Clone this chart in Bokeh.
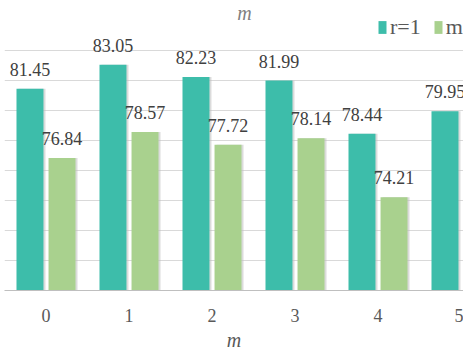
from bokeh.plotting import figure
from bokeh.models import (ColumnDataSource, Range1d, FixedTicker, LabelSet,
                          Legend, LegendItem, Label)
from bokeh.transform import dodge
from bokeh.core.properties import value
from bokeh.embed import file_html
from bokeh.resources import INLINE

# ---- data ----
groups = [0, 1, 2, 3, 4, 5]
r1_vals = [81.45, 83.05, 82.23, 81.99, 78.44, 79.95]
m_groups = [0, 1, 2, 3, 4]
m_vals = [76.84, 78.57, 77.72, 78.14, 74.21]
tick_labels = ["0", "1", "2", "3", "4", "5"]
grid_ticks = [70, 72, 74, 76, 78, 80, 82, 84]
series_names = ["r=1", "m"]

TEAL = "#3dbdaa"
GREEN = "#a9d18e"
FONT = "'Liberation Serif', 'Times New Roman', serif"

src_r = ColumnDataSource(dict(x=groups, v=r1_vals, lbl=[f"{v:.2f}" for v in r1_vals]))
src_m = ColumnDataSource(dict(x=m_groups, v=m_vals, lbl=[f"{v:.2f}" for v in m_vals]))

p = figure(width=463, height=359, x_range=Range1d(-0.5, 5.03),
           y_range=Range1d(68, 87.33), output_backend="svg",
           toolbar_location=None, min_border_left=4, min_border_right=0,
           min_border_top=0, min_border_bottom=69)
p.outline_line_color = None
p.background_fill_color = "white"
p.border_fill_color = "white"

p.yaxis.visible = False
p.xgrid.visible = False
p.ygrid.ticker = FixedTicker(ticks=grid_ticks)
p.ygrid.grid_line_color = "#d9d9d9"
p.ygrid.grid_line_width = 1

OFF = 0.193
W = 0.325
SH = 0.024  # subtle drop-shadow offset

# soft shadows behind bars
for src, off in ((src_r, -OFF), (src_m, OFF)):
    p.vbar(x=dodge("x", off + SH), top="v", bottom=68, width=W, source=src,
           fill_color="#bdbdbd", fill_alpha=0.55, line_color=None)

rb = p.vbar(x=dodge("x", -OFF), top="v", bottom=68, width=W, source=src_r,
            fill_color=TEAL, line_color=None)
mb = p.vbar(x=dodge("x", OFF), top="v", bottom=68, width=W, source=src_m,
            fill_color=GREEN, line_color=None)

for src, off in ((src_r, -OFF), (src_m, OFF)):
    p.add_layout(LabelSet(x=dodge("x", off), y="v", text="lbl", source=src,
                          y_offset=13, text_align="center",
                          text_baseline="alphabetic",
                          text_font=value(FONT), text_font_size="18px",
                          text_color="#404040"))

xa = p.xaxis[0]
xa.ticker = FixedTicker(ticks=groups)
xa.major_label_overrides = {g: t for g, t in zip(groups, tick_labels)}
xa.axis_line_color = "#bfbfbf"
xa.major_tick_line_color = None
xa.minor_tick_line_color = None
xa.major_label_standoff = 12
xa.major_label_text_font = FONT
xa.major_label_text_font_size = "18px"
xa.major_label_text_color = "#595959"
xa.axis_label = "m"
xa.axis_label_text_font = FONT
xa.axis_label_text_font_style = "italic"
xa.axis_label_text_font_size = "20px"
xa.axis_label_text_color = "#595959"
xa.axis_label_standoff = 4

legend = Legend(items=[LegendItem(label=series_names[0], renderers=[rb]),
                       LegendItem(label=series_names[1], renderers=[mb])],
                location=(373, 250), orientation="horizontal",
                padding=0, margin=0, spacing=12, label_standoff=3,
                glyph_width=10, glyph_height=16,
                border_line_color=None, background_fill_alpha=0,
                label_text_font=FONT, label_text_font_size="22px",
                label_text_color="#595959")
p.add_layout(legend)

p.add_layout(Label(x=240, y=278, x_units="screen", y_units="screen", text="m",
                   text_align="center", text_baseline="alphabetic",
                   text_font=FONT, text_font_style="italic",
                   text_font_size="20px", text_color="#7f7f7f"))

open("out.html", "w").write(file_html(p, INLINE))
